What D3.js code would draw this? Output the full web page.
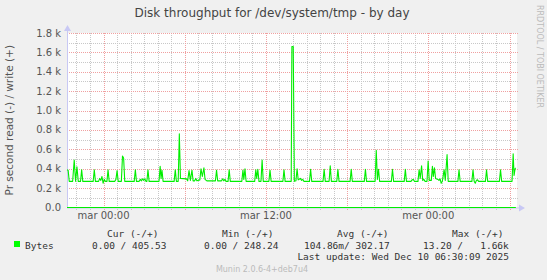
<!DOCTYPE html>
<html lang="fr">
  <head>
    <meta charset="UTF-8" />
    <title>Disk throughput</title>
    <script src="https://cdn.jsdelivr.net/npm/d3@7"></script>
    <style>
      body { margin: 0; background: #f0f0f0; }
      svg { display: block; background: #f0f0f0; }
      text { font-family: "DejaVu Sans", sans-serif; }
      .mono { font-family: "DejaVu Sans Mono", monospace; font-size: 9.5px; fill: #333; }
    </style>
  </head>
  <body>
    <script>
      const title = "Disk throughput for /dev/system/tmp - by day";
      const yLabel = "Pr second read (-) / write (+)";
      const startTime = new Date(2025, 11, 8, 21, 18);
      const endTime = new Date(2025, 11, 10, 6, 33);
      const yTicks = [0, 200, 400, 600, 800, 1000, 1200, 1400, 1600, 1800];
      const dayNames = ["dim", "lun", "mar", "mer", "jeu", "ven", "sam"];

      // [minutes after start, bytes/s]
      const writeSeries = [
        [0, 390], [5, 385], [10, 270], [25, 270], [32, 490], [38, 270], [44, 420], [50, 270],
        [60, 270], [65, 390], [70, 270], [116, 270], [121, 390], [126, 270],
        [140, 270], [145, 300], [150, 280], [155, 320], [160, 250], [165, 290], [170, 270],
        [177, 270], [182, 390], [187, 270], [212, 270], [217, 290], [222, 380], [227, 270],
        [241, 270], [246, 530], [251, 510], [256, 270], [298, 270], [303, 390], [308, 270],
        [320, 270], [325, 290], [330, 275], [335, 295], [340, 280], [345, 295], [350, 270],
        [354, 270], [359, 390], [364, 270], [408, 270], [413, 425], [417, 300], [421, 385], [426, 270],
        [475, 270], [480, 390], [485, 270], [493, 270], [498, 760], [503, 300], [530, 295], [535, 275],
        [541, 380], [547, 280], [554, 385], [559, 275], [566, 275], [571, 300], [576, 275],
        [589, 285], [594, 400], [600, 320], [607, 410], [612, 290], [620, 275],
        [658, 275], [663, 385], [668, 275], [685, 275], [690, 295], [695, 275], [700, 290], [705, 270],
        [714, 270], [719, 390], [724, 270], [775, 270], [780, 385], [784, 290], [789, 400], [794, 270],
        [832, 270], [837, 390], [841, 300], [846, 395], [851, 270], [860, 270], [865, 490], [870, 270],
        [895, 270], [900, 385], [905, 270], [957, 270], [962, 390], [967, 270],
        [994, 270], [997, 1660], [1003, 1660], [1008, 270],
        [1015, 275], [1020, 400], [1025, 285], [1035, 300], [1040, 280], [1045, 290], [1050, 270],
        [1075, 270], [1080, 395], [1085, 270], [1135, 270], [1140, 395], [1145, 270],
        [1162, 270], [1167, 430], [1172, 270], [1196, 270], [1201, 395], [1206, 270],
        [1255, 270], [1260, 395], [1265, 270], [1318, 270], [1323, 395], [1328, 270],
        [1366, 270], [1371, 590], [1376, 290], [1381, 395], [1386, 270],
        [1438, 270], [1443, 395], [1448, 270], [1495, 270], [1500, 395], [1505, 270],
        [1525, 270], [1530, 285], [1535, 290], [1540, 270],
        [1556, 270], [1561, 390], [1566, 300], [1572, 430], [1577, 280], [1582, 290], [1587, 270],
        [1596, 270], [1601, 480], [1606, 280], [1615, 280], [1620, 425], [1624, 320], [1629, 410],
        [1634, 300], [1639, 295], [1644, 290], [1649, 280], [1654, 295], [1659, 250], [1664, 270],
        [1672, 390], [1677, 280], [1685, 545], [1690, 270],
        [1733, 270], [1738, 390], [1743, 270], [1795, 270], [1800, 390], [1805, 270],
        [1810, 250], [1815, 280], [1820, 285], [1825, 270],
        [1855, 270], [1860, 390], [1865, 270], [1917, 270], [1922, 390], [1927, 270],
        [1973, 270], [1978, 555], [1982, 330], [1987, 405], [1990, 405]
      ];
      const readSeries = [[0, 0], [1990, 0]];

      const statHeaders = ["Cur (-/+)", "Min (-/+)", "Avg (-/+)", "Max (-/+)"];
      const statValues = ["0.00 / 405.53", "0.00 / 248.24", "104.86m/ 302.17", "13.20 /   1.66k"];
      const seriesName = "Bytes";
      const lastUpdate = "Last update: Wed Dec 10 06:30:09 2025";
      const version = "Munin 2.0.6-4+deb7u4";

      const width = 547;
      const height = 280;
      const plotLeft = 67, plotRight = 517, plotTop = 33, plotBottom = 207.5;
      const green = "#00ee00";

      const svg = d3.select("body").append("svg")
        .attr("width", width).attr("height", height);

      const toDate = m => new Date(startTime.getTime() + m * 60000);
      const x = d3.scaleTime().domain([startTime, endTime]).range([plotLeft, plotRight]);
      const y = d3.scaleLinear().domain([0, 1800]).range([plotBottom, plotTop]);

      svg.append("rect")
        .attr("x", plotLeft).attr("y", plotTop)
        .attr("width", plotRight - plotLeft).attr("height", plotBottom - plotTop)
        .attr("fill", "#fff");

      // minor grid
      const grid = svg.append("g").attr("shape-rendering", "crispEdges");
      grid.selectAll(".hmin")
        .data(d3.range(100, 1800, 200))
        .enter().append("line")
        .attr("x1", plotLeft).attr("x2", plotRight + 2)
        .attr("y1", d => Math.round(y(d)) + 0.5).attr("y2", d => Math.round(y(d)) + 0.5)
        .attr("stroke", "#c8c8c8").attr("stroke-dasharray", "1,1");
      grid.selectAll(".vmin")
        .data(d3.timeHour.range(startTime, endTime).filter(d => d.getHours() % 6 != 0))
        .enter().append("line")
        .attr("x1", d => Math.round(x(d)) + 0.5).attr("x2", d => Math.round(x(d)) + 0.5)
        .attr("y1", plotTop).attr("y2", plotBottom + 2)
        .attr("stroke", "#c8c8c8").attr("stroke-dasharray", "1,1");

      // major grid
      grid.selectAll(".hmaj")
        .data(yTicks.slice(1))
        .enter().append("line")
        .attr("x1", plotLeft).attr("x2", plotRight + 2)
        .attr("y1", d => Math.round(y(d)) + 0.5).attr("y2", d => Math.round(y(d)) + 0.5)
        .attr("stroke", "#f0a0a0").attr("stroke-dasharray", "1,1");
      grid.selectAll(".vmaj")
        .data(d3.timeHour.every(6).range(startTime, endTime))
        .enter().append("line")
        .attr("x1", d => Math.round(x(d)) + 0.5).attr("x2", d => Math.round(x(d)) + 0.5)
        .attr("y1", plotTop).attr("y2", plotBottom + 3)
        .attr("stroke", "#f0a0a0").attr("stroke-dasharray", "1,1");

      // y tick labels
      svg.selectAll(".ylab")
        .data(yTicks)
        .enter().append("text")
        .attr("x", 61).attr("y", d => y(d) + 3.5)
        .attr("text-anchor", "end")
        .attr("font-size", 10).attr("fill", "#555")
        .text(d => d == 0 ? "0.0" : (d / 1000).toFixed(1) + " k");

      // x tick labels
      const fmtTime = d3.timeFormat("%H:%M");
      svg.selectAll(".xlab")
        .data(d3.timeHour.every(12).range(startTime, endTime))
        .enter().append("text")
        .attr("x", d => x(d)).attr("y", 219)
        .attr("text-anchor", "middle")
        .attr("font-size", 10).attr("fill", "#555")
        .text(d => dayNames[d.getDay()] + " " + fmtTime(d));

      // axes with arrows
      const axisColor = "#c8c8f4";
      svg.append("line")
        .attr("x1", plotLeft + 0.5).attr("x2", plotLeft + 0.5)
        .attr("y1", plotBottom).attr("y2", plotTop - 3)
        .attr("stroke", axisColor);
      svg.append("path")
        .attr("d", `M${plotLeft - 3},${plotTop - 2} L${plotLeft + 4},${plotTop - 2} L${plotLeft + 0.5},${plotTop - 8} Z`)
        .attr("fill", axisColor);
      svg.append("line")
        .attr("x1", plotLeft).attr("x2", plotRight + 3)
        .attr("y1", plotBottom + 0.5).attr("y2", plotBottom + 0.5)
        .attr("stroke", axisColor);
      svg.append("path")
        .attr("d", `M${plotRight + 2},${plotBottom - 3} L${plotRight + 2},${plotBottom + 4} L${plotRight + 8},${plotBottom + 0.5} Z`)
        .attr("fill", axisColor);

      // series
      const line = d3.line()
        .x(d => x(toDate(d[0])))
        .y(d => y(d[1]));
      svg.append("path")
        .datum(readSeries)
        .attr("d", line)
        .attr("fill", "none").attr("stroke", green).attr("stroke-width", 1.2);
      svg.append("path")
        .datum(writeSeries)
        .attr("d", line)
        .attr("fill", "none").attr("stroke", green).attr("stroke-width", 1.1)
        .attr("stroke-linejoin", "round");

      // titles
      svg.append("text")
        .attr("x", 272).attr("y", 17)
        .attr("text-anchor", "middle")
        .attr("font-size", 12).attr("fill", "#444")
        .text(title);
      svg.append("text")
        .attr("transform", "translate(13," + (plotBottom + plotTop) / 2 + ") rotate(-90)")
        .attr("text-anchor", "middle")
        .attr("font-size", 10.5).attr("fill", "#555")
        .text(yLabel);
      svg.append("text")
        .attr("transform", "translate(537,5) rotate(90)")
        .attr("font-size", 8).attr("fill", "#bbb")
        .text("RRDTOOL / TOBI OETIKER");

      // legend
      const colX = [107, 222, 337, 452];
      const valX = [92, 204, 304, 423];
      svg.selectAll(".hdr")
        .data(statHeaders)
        .enter().append("text")
        .attr("class", "mono")
        .attr("x", (d, i) => colX[i]).attr("y", 237)
        .attr("xml:space", "preserve")
        .text(d => d);
      svg.append("rect")
        .attr("x", 14).attr("y", 241).attr("width", 6).attr("height", 6)
        .attr("fill", "#00ff00");
      svg.append("text")
        .attr("class", "mono")
        .attr("x", 25).attr("y", 248.5)
        .text(seriesName);
      svg.selectAll(".val")
        .data(statValues)
        .enter().append("text")
        .attr("class", "mono")
        .attr("x", (d, i) => valX[i]).attr("y", 248.5)
        .attr("xml:space", "preserve")
        .text(d => d);
      svg.append("text")
        .attr("class", "mono")
        .attr("x", 509).attr("y", 260)
        .attr("text-anchor", "end")
        .text(lastUpdate);
      svg.append("text")
        .attr("x", 262).attr("y", 272)
        .attr("text-anchor", "middle")
        .attr("font-size", 8).attr("fill", "#bbb")
        .text(version);
    </script>
  </body>
</html>
